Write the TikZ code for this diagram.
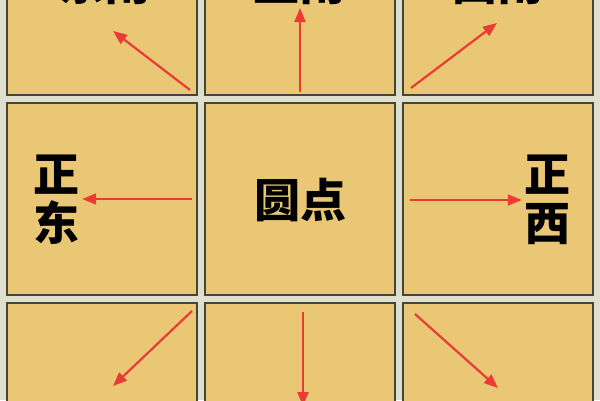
\documentclass[tikz,border=0pt]{standalone}
\usepackage{fontspec}
\usepackage{tikz}
\usetikzlibrary{arrows.meta}
\newfontfamily\cjk{Noto Sans CJK SC}
\definecolor{tan}{HTML}{EAC775}
\definecolor{grout}{HTML}{DEDFCF}
\definecolor{groutdark}{HTML}{45463A}
\definecolor{arrowred}{HTML}{EA3B35}
\newcommand{\dirfont}{\cjk\bfseries\fontsize{46}{49}\selectfont}

\begin{document}
\begin{tikzpicture}[x=1pt,y=-1pt, tile/.style={draw=groutdark,line width=2.5pt,fill=tan,minimum width=190pt,minimum height=192pt,inner sep=0pt}, dir/.style={font=\dirfont,align=center,inner sep=2pt}, pointer/.style={draw=arrowred,line width=2.2pt,-{Triangle[length=14pt,width=11pt]}}]
    \useasboundingbox (0,0) rectangle (600,400);
    \clip (0,0) rectangle (600,400);
    \fill[grout] (0,0) rectangle (600,400);

    \node[tile] (t11) at (102,-1) {};
    \node[tile] (t12) at (300,-1) {};
    \node[tile] (t13) at (498,-1) {};
    \node[tile] (t21) at (102,199) {};
    \node[tile] (t22) at (300,199) {};
    \node[tile] (t23) at (498,199) {};
    \node[tile] (t31) at (102,399) {};
    \node[tile] (t32) at (300,399) {};
    \node[tile] (t33) at (498,399) {};

    \node[dir] (dn) at (104,-17) {东南};
    \node[dir] (zn) at (299,-17) {正南};
    \node[dir] (xn) at (497,-17) {西南};
    \node[dir] (zd) at (57,200) {正\\东};
    \node[dir] (yd) at (300,200) {圆点};
    \node[dir] (zx) at (547,200) {正\\西};

    \coordinate (s1) at (190,90);   \coordinate (e1) at (113,31);
    \coordinate (s2) at (300,92);   \coordinate (e2) at (300,8);
    \coordinate (s3) at (411,88);   \coordinate (e3) at (497,23);
    \coordinate (s4) at (192,199);
    \coordinate (s6) at (410,200);
    \coordinate (s7) at (192,311);  \coordinate (e7) at (113,386);
    \coordinate (s8) at (303,312);  \coordinate (e8) at (303,406);
    \coordinate (s9) at (415,314);  \coordinate (e9) at (498,388);

    \draw[pointer] (s1) -- (e1);
    \draw[pointer] (s2) -- (e2);
    \draw[pointer] (s3) -- (e3);
    \draw[pointer] (s4) -- (zd.east |- s4);
    \draw[pointer] (s6) -- (zx.west |- s6);
    \draw[pointer] (s7) -- (e7);
    \draw[pointer] (s8) -- (e8);
    \draw[pointer] (s9) -- (e9);
\end{tikzpicture}
\end{document}
